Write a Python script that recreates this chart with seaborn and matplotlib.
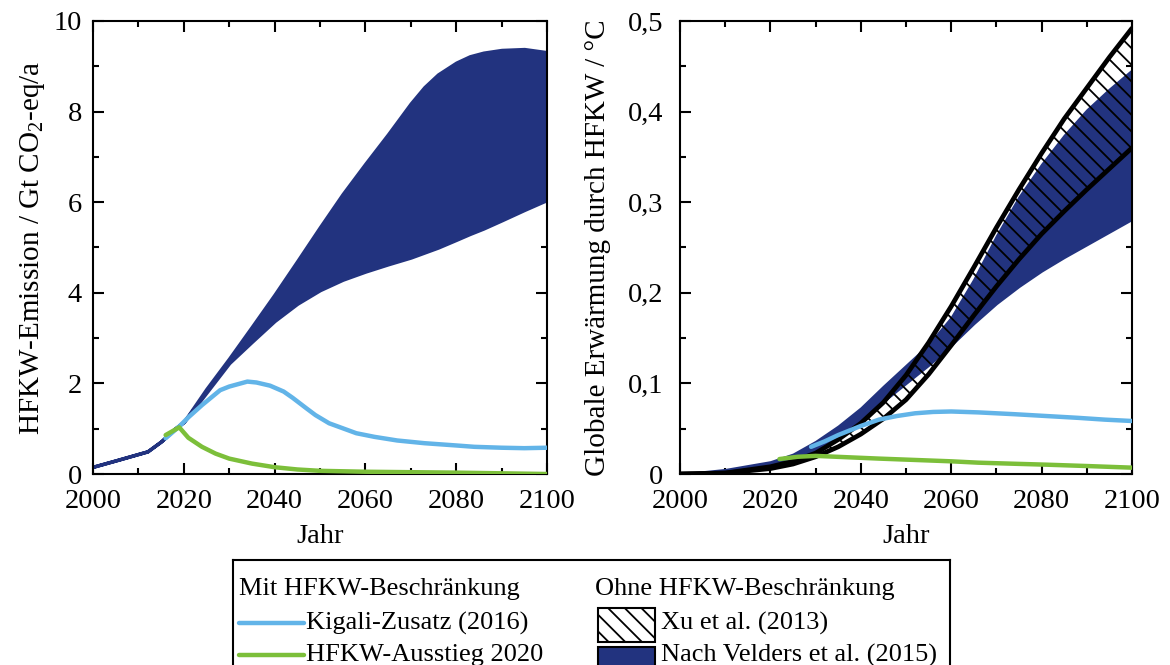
import numpy as np
import pandas as pd
import matplotlib
matplotlib.use('Agg')
import matplotlib.pyplot as plt
import seaborn as sns
from matplotlib.patches import Rectangle
from matplotlib.ticker import MultipleLocator, FuncFormatter

# ── Data: emissions (left panel) ───────────────────────────
em_years = [2000, 2005, 2012, 2015, 2018, 2020, 2025, 2030, 2035, 2040, 2045, 2050,
            2055, 2060, 2065, 2070, 2073, 2076, 2080, 2083, 2086, 2090, 2095, 2100]
velders_em_hi = [0.16, 0.30, 0.50, 0.72, 1.00, 1.15, 1.88, 2.55, 3.25, 3.96, 4.70, 5.45,
                 6.18, 6.85, 7.50, 8.18, 8.54, 8.82, 9.08, 9.22, 9.30, 9.36, 9.38, 9.31]
velders_em_lo = [0.16, 0.30, 0.50, 0.72, 1.00, 1.15, 1.80, 2.45, 2.92, 3.38, 3.76, 4.06,
                 4.29, 4.47, 4.63, 4.78, 4.89, 5.00, 5.17, 5.30, 5.42, 5.60, 5.83, 6.05]

kigali_em_years = [2016, 2019, 2021, 2024, 2028, 2030, 2034, 2036, 2039, 2042, 2044, 2047,
                   2049, 2052, 2055, 2058, 2062, 2067, 2073, 2080, 2084, 2090, 2095, 2100]
kigali_em = [0.79, 1.05, 1.25, 1.52, 1.85, 1.93, 2.04, 2.02, 1.95, 1.82, 1.68, 1.45,
             1.30, 1.12, 1.01, 0.90, 0.82, 0.74, 0.68, 0.63, 0.60, 0.58, 0.57, 0.58]

phaseout_em_years = [2016, 2019, 2021, 2024, 2027, 2030, 2035, 2040, 2045, 2050,
                     2060, 2070, 2080, 2090, 2100]
phaseout_em = [0.86, 1.03, 0.80, 0.60, 0.45, 0.34, 0.23, 0.15, 0.10, 0.07,
               0.05, 0.04, 0.03, 0.015, 0.0]

# ── Data: warming (right panel) ────────────────────────────
w_years = [2000, 2010, 2020, 2025, 2030, 2035, 2040, 2045, 2050, 2055,
           2060, 2065, 2070, 2075, 2080, 2085, 2090, 2095, 2100]
xu_hi = [0, 0.001, 0.008, 0.014, 0.023, 0.038, 0.056, 0.079, 0.109, 0.145,
         0.185, 0.228, 0.272, 0.314, 0.354, 0.392, 0.426, 0.460, 0.492]
xu_lo = [0, 0.001, 0.006, 0.011, 0.019, 0.030, 0.044, 0.061, 0.082, 0.110,
         0.142, 0.175, 0.207, 0.237, 0.265, 0.290, 0.314, 0.337, 0.360]
velders_w_hi = [0, 0.005, 0.0136, 0.022, 0.036, 0.053, 0.073, 0.097, 0.120, 0.143,
                0.173, 0.215, 0.263, 0.306, 0.342, 0.374, 0.402, 0.425, 0.446]
velders_w_lo = [0, 0.001, 0.009, 0.015, 0.025, 0.040, 0.058, 0.080, 0.100, 0.120,
                0.142, 0.166, 0.188, 0.207, 0.224, 0.239, 0.253, 0.267, 0.281]

kigali_w_years = [2029, 2032, 2035, 2040, 2044, 2048, 2052, 2056, 2060, 2066,
                  2074, 2081, 2088, 2094, 2100]
kigali_w = [0.030, 0.036, 0.043, 0.053, 0.060, 0.064, 0.067, 0.0685, 0.069, 0.068,
            0.066, 0.064, 0.062, 0.060, 0.0585]

phaseout_w_years = [2022, 2026, 2030, 2037, 2044, 2052, 2060, 2066, 2074, 2081, 2090, 2100]
phaseout_w = [0.0165, 0.019, 0.020, 0.0185, 0.017, 0.0155, 0.014, 0.0125, 0.0113,
              0.0103, 0.0088, 0.007]

# ── Style ──────────────────────────────────────────────────
sns.set_theme(style='ticks')
plt.rcParams['font.family'] = ['Liberation Serif', 'DejaVu Serif']
plt.rcParams['mathtext.fontset'] = 'custom'
plt.rcParams['mathtext.rm'] = 'Liberation Serif'
plt.rcParams['hatch.linewidth'] = 1.3
plt.rcParams['text.color'] = 'black'
plt.rcParams['axes.labelcolor'] = 'black'

BLUE = '#22337f'
LIGHT = '#62b4e8'
GREEN = '#7cbf3a'
FS = 20.5

fig = plt.figure(figsize=(11.7, 6.65), dpi=100)
ax1 = fig.add_axes([93/1170, 1 - 474/665, 454/1170, 453/665])
ax2 = fig.add_axes([680/1170, 1 - 474/665, 452/1170, 453/665])


def style_axis(ax, ymax, ymajor, yminor, ypad):
    ax.set_xlim(2000, 2100)
    ax.set_ylim(0, ymax)
    ax.xaxis.set_major_locator(MultipleLocator(20))
    ax.xaxis.set_minor_locator(MultipleLocator(10))
    ax.yaxis.set_major_locator(MultipleLocator(ymajor))
    ax.yaxis.set_minor_locator(MultipleLocator(yminor))
    ax.tick_params(which='both', direction='in', top=True, right=True,
                   width=1.5, colors='black', labelsize=FS)
    ax.tick_params(which='major', length=8)
    ax.tick_params(which='minor', length=4)
    ax.tick_params(axis='x', which='major', pad=11)
    ax.tick_params(axis='y', which='major', pad=ypad)
    for s in ax.spines.values():
        s.set_linewidth(1.5)
        s.set_color('black')
    ax.set_xlabel('Jahr', fontsize=FS, labelpad=7)


# ── Left: emissions ────────────────────────────────────────
ax = ax1
ax.fill_between(em_years, velders_em_lo, velders_em_hi, facecolor=BLUE,
                edgecolor=BLUE, lw=2.5, zorder=2)
sns.lineplot(x=kigali_em_years, y=kigali_em, ax=ax, color=LIGHT, lw=3.2, zorder=4)
sns.lineplot(x=phaseout_em_years, y=phaseout_em, ax=ax, color=GREEN, lw=3.2, zorder=5)
style_axis(ax, 10, 2, 1, 8)
ax.yaxis.set_major_formatter(FuncFormatter(lambda v, p: f'{v:.0f}'))
ax.set_ylabel('HFKW-Emission / Gt CO$_\\mathrm{2}$-eq/a', fontsize=21, labelpad=5)

# ── Right: warming ─────────────────────────────────────────
ax = ax2
ax.fill_between(w_years, velders_w_lo, velders_w_hi, facecolor=BLUE,
                edgecolor=BLUE, lw=1.5, zorder=2)
ax.fill_between(w_years, xu_lo, xu_hi, facecolor='none', edgecolor='black',
                hatch='\\\\', lw=0, zorder=3)
sns.lineplot(x=w_years, y=xu_hi, ax=ax, color='black', lw=3.4, zorder=3.5)
sns.lineplot(x=w_years, y=xu_lo, ax=ax, color='black', lw=3.4, zorder=3.5)
sns.lineplot(x=kigali_w_years, y=kigali_w, ax=ax, color=LIGHT, lw=3.2, zorder=4)
sns.lineplot(x=phaseout_w_years, y=phaseout_w, ax=ax, color=GREEN, lw=3.2, zorder=5)
style_axis(ax, 0.5, 0.1, 0.05, 12)
ax.yaxis.set_major_formatter(FuncFormatter(
    lambda v, p: '0' if abs(v) < 1e-9 else f'{v:.1f}'.replace('.', ',')))
ax.set_ylabel('Globale Erwärmung durch HFKW / °C', fontsize=21, labelpad=12)

# ── Legend box ─────────────────────────────────────────────
lax = fig.add_axes([233/1170, 0, 717/1170, 105/665])
lax.set_xlim(233, 950)
lax.set_ylim(665, 560)
lax.set_xticks([])
lax.set_yticks([])
lax.patch.set_alpha(0)
for k, s in lax.spines.items():
    s.set_linewidth(1.5)
    s.set_color('black')
lax.spines['bottom'].set_visible(False)

LFS = 19
lax.text(239, 589, 'Mit HFKW-Beschränkung', fontsize=LFS, va='center', ha='left')
lax.plot([239, 304], [623, 623], color=LIGHT, lw=3.2)
lax.text(306, 623, 'Kigali-Zusatz (2016)', fontsize=LFS, va='center', ha='left')
lax.plot([239, 304], [655, 655], color=GREEN, lw=3.2)
lax.text(306, 655, 'HFKW-Ausstieg 2020', fontsize=LFS, va='center', ha='left')

lax.text(595, 589, 'Ohne HFKW-Beschränkung', fontsize=LFS, va='center', ha='left')
lax.add_patch(Rectangle((598, 608), 57, 34, facecolor='white', edgecolor='black',
                        hatch='\\\\', lw=1.5))
lax.text(661, 623, 'Xu et al. (2013)', fontsize=LFS, va='center', ha='left')
lax.add_patch(Rectangle((598, 647), 57, 40, facecolor=BLUE, edgecolor='black', lw=1.5,
                        clip_on=True))
lax.text(661, 655, 'Nach Velders et al. (2015)', fontsize=LFS, va='center', ha='left')

fig.savefig('out.png', dpi=100)
